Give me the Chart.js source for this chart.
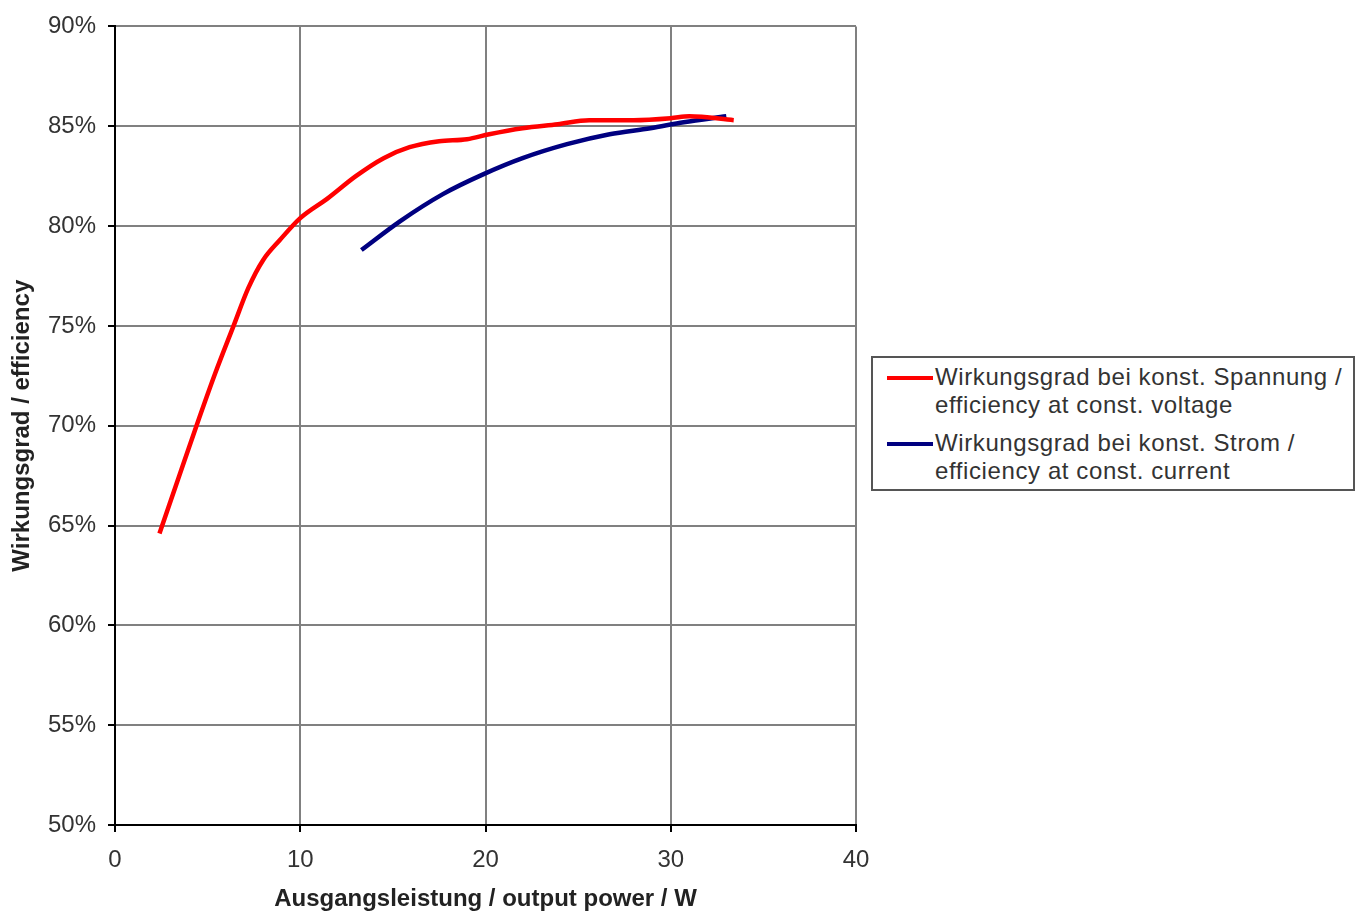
<!DOCTYPE html>
<html>
<head>
<meta charset="utf-8">
<script src="https://cdn.jsdelivr.net/npm/chart.js@4"></script>
<style>
    html, body { margin: 0; padding: 0; background: #fff; }
    #wrap { position: relative; width: 1360px; height: 914px; }
    #legend {
        position: absolute; left: 871px; top: 356px; width: 484px; height: 135px;
        border: 2px solid #555; box-sizing: border-box; background: #fff;
        font-family: "Liberation Sans", Arial, sans-serif; font-size: 24px; color: #333;
        line-height: 28px; white-space: nowrap; letter-spacing: 0.6px;
    }
    .item { position: absolute; left: 62px; }
    .swatch { position: absolute; left: -48px; top: 13px; width: 46px; height: 4px; }
</style>
</head>
<body>
<div id="wrap">
    <canvas id="effChart" width="1360" height="914"></canvas>
    <div id="legend">
        <div class="item" style="top: 5px;"><span class="swatch" style="background:#ff0000"></span>Wirkungsgrad bei konst. Spannung /<br>efficiency at const. voltage</div>
        <div class="item" style="top: 71px;"><span class="swatch" style="background:#000080"></span>Wirkungsgrad bei konst. Strom /<br>efficiency at const. current</div>
    </div>
</div>
<script>
// Wirkungsgrad bei konst. Spannung (rot)
const spannungX = [2.4, 3.4, 4.4, 5.4, 6.4, 7.2, 8.0, 8.9, 10.0, 11.5, 13.0, 14.5, 15.9, 17.5, 19.0, 20.2, 22.0, 23.9, 25.6, 28.0, 30.0, 31.0, 33.4];
const spannungY = [64.6, 67.3, 70.0, 72.6, 75.0, 76.9, 78.3, 79.3, 80.4, 81.4, 82.5, 83.4, 83.95, 84.25, 84.35, 84.6, 84.9, 85.1, 85.3, 85.3, 85.4, 85.5, 85.3];

// Wirkungsgrad bei konst. Strom (blau)
const stromX = [13.3, 15.4, 17.7, 19.9, 22.0, 24.4, 26.7, 28.9, 30.7, 33.0];
const stromY = [78.8, 80.25, 81.6, 82.6, 83.4, 84.1, 84.6, 84.9, 85.2, 85.5];

const xTicks = [0, 10, 20, 30, 40];
const yTicks = [50, 55, 60, 65, 70, 75, 80, 85, 90];

function toPoints(xs, ys) {
    return xs.map((x, i) => ({ x: x, y: ys[i] }));
}

const fontFam = '"Liberation Sans", Arial, sans-serif';

const ctx = document.getElementById('effChart').getContext('2d');
const effChart = new Chart(ctx, {
    type: 'line',
    data: {
        datasets: [
            {
                label: 'Wirkungsgrad bei konst. Spannung / efficiency at const. voltage',
                data: toPoints(spannungX, spannungY),
                borderColor: '#ff0000',
                borderWidth: 4.5,
                pointRadius: 0,
                tension: 0.4,
                cubicInterpolationMode: 'monotone'
            },
            {
                label: 'Wirkungsgrad bei konst. Strom / efficiency at const. current',
                data: toPoints(stromX, stromY),
                borderColor: '#000080',
                borderWidth: 4.5,
                pointRadius: 0,
                tension: 0.4,
                cubicInterpolationMode: 'monotone'
            }
        ]
    },
    options: {
        responsive: false,
        animation: false,
        layout: { padding: { top: 25, right: 504, left: 0, bottom: 0 } },
        plugins: {
            legend: { display: false },
            tooltip: { enabled: false }
        },
        scales: {
            x: {
                type: 'linear',
                min: xTicks[0],
                max: xTicks[xTicks.length - 1],
                afterBuildTicks: (s) => { s.ticks = xTicks.map(v => ({ value: v })); },
                afterFit: (s) => { s.height = 89; },
                grid: { color: '#808080', lineWidth: 2, tickLength: 7, tickColor: '#000' },
                border: { color: '#000', width: 2 },
                ticks: { color: '#333', font: { family: fontFam, size: 24 }, padding: 14 },
                title: {
                    display: true,
                    text: 'Ausgangsleistung / output power / W',
                    color: '#222',
                    font: { family: fontFam, size: 24, weight: 'bold' },
                    padding: { top: 5, bottom: 0 }
                }
            },
            y: {
                min: yTicks[0],
                max: yTicks[yTicks.length - 1],
                afterBuildTicks: (s) => { s.ticks = yTicks.map(v => ({ value: v })); },
                afterFit: (s) => { s.width = 115; },
                grid: { color: '#808080', lineWidth: 2, tickLength: 7, tickColor: '#000' },
                border: { color: '#000', width: 2 },
                ticks: {
                    color: '#333',
                    font: { family: fontFam, size: 24 },
                    padding: 12,
                    callback: (v) => v + '%'
                },
                title: {
                    display: true,
                    text: 'Wirkungsgrad / efficiency',
                    color: '#222',
                    font: { family: fontFam, size: 24, weight: 'bold' },
                    padding: { top: 8, bottom: 0 }
                }
            }
        }
    }
});
</script>
</body>
</html>
